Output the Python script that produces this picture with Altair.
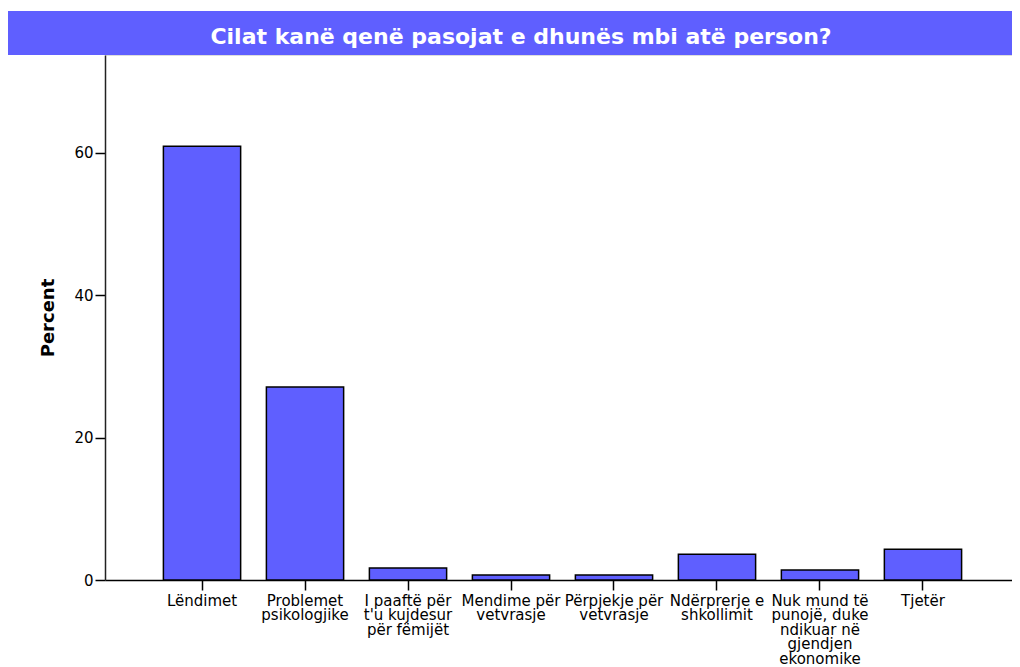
import altair as alt
import pandas as pd

categories = [
    "Lëndimet",
    "Problemet|psikologjike",
    "I paaftë për|t'u kujdesur|për fëmijët",
    "Mendime për|vetvrasje",
    "Përpjekje për|vetvrasje",
    "Ndërprerje e|shkollimit",
    "Nuk mund të|punojë, duke|ndikuar në|gjendjen|ekonomike",
    "Tjetër",
]
percents = [60.9, 27.1, 1.7, 0.7, 0.7, 3.6, 1.4, 4.3]
title_text = "Cilat kanë qenë pasojat e dhunës mbi atë person?"
y_ticks = [0, 20, 40, 60]

BLUE = "#5f5fff"
FONT = "DejaVu Sans"

df = pd.DataFrame({"cat": categories, "pct": percents})
tdf = pd.DataFrame({"t": [title_text]})

bars = alt.Chart(df).mark_bar(
    color=BLUE, stroke="black", strokeWidth=1.5
).encode(
    x=alt.X(
        "cat:N",
        sort=categories,
        title=None,
        scale=alt.Scale(paddingInner=0.25, paddingOuter=0.567, range=[0, 915]),
        axis=alt.Axis(
            labelExpr="split(datum.label, '|')",
            labelAngle=0,
            labelFont=FONT,
            labelFontSize=15,
            labelLineHeight=14.5,
            labelColor="black",
            labelPadding=3,
            labelOverlap=False,
            labelLimit=0,
            labelBaseline="top",
            tickSize=10,
            tickWidth=1.5,
            tickColor="black",
            domainColor="black",
            domainWidth=1.5,
        ),
    ),
    y=alt.Y(
        "pct:Q",
        scale=alt.Scale(domain=[0, 73.7], nice=False),
        axis=alt.Axis(
            values=y_ticks,
            grid=False,
            title="Percent",
            titleFont=FONT,
            titleFontSize=18,
            titleFontWeight="bold",
            titleColor="black",
            titleAngle=270,
            titleAlign="center",
            titleBaseline="alphabetic",
            titleX=-51.5,
            titleY=262.5,
            labelFont=FONT,
            labelFontSize=15,
            labelColor="black",
            labelPadding=2,
            tickSize=10,
            tickWidth=1.5,
            tickColor="black",
            domainColor="#222222",
            domainWidth=1.5,
        ),
    ),
)

title_bar = alt.Chart(tdf).mark_rect(color=BLUE).encode(
    x=alt.value(-97), x2=alt.value(915), y=alt.value(-44), y2=alt.value(0)
)

title_label = alt.Chart(tdf).mark_text(
    font=FONT, fontSize=22, fontWeight="bold", color="white",
    align="center", baseline="alphabetic"
).encode(
    x=alt.value(416), y=alt.value(-11.5), text="t:N"
)

chart = alt.layer(bars, title_bar, title_label).properties(
    width=907,
    height=525,
    autosize=alt.AutoSizeParams(type="none"),
    padding={"left": 97, "top": 47, "right": 0, "bottom": 87},
).configure_view(
    fill="#f0f0f0", stroke="#b8b8b8", strokeWidth=1
).configure(background="white")

chart.save("out.html", embed_options={"renderer": "svg", "actions": False})
